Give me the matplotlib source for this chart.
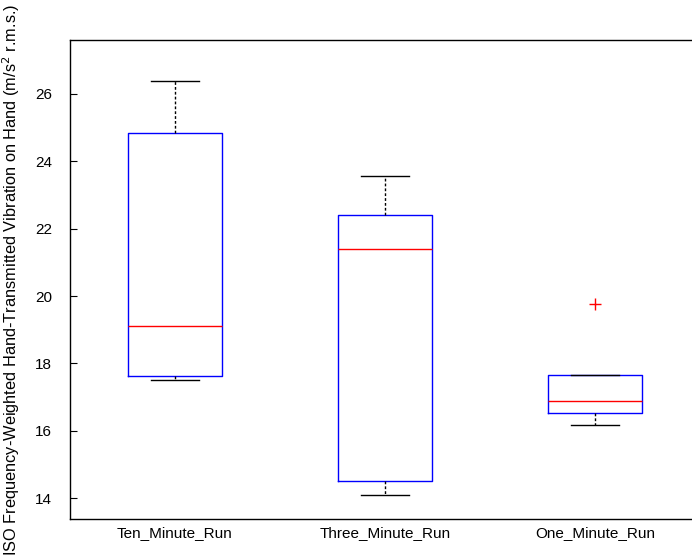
import matplotlib
matplotlib.use('Agg')
import matplotlib.pyplot as plt

# box statistics
groups = ['Ten_Minute_Run', 'Three_Minute_Run', 'One_Minute_Run']
q1 = [17.63, 14.52, 16.53]
med = [19.11, 21.40, 16.88]
q3 = [24.84, 22.41, 17.66]
whislo = [17.50, 14.10, 16.17]
whishi = [26.38, 23.56, 17.66]
fliers = [[], [], [19.77]]

plt.rcParams['font.family'] = ['Liberation Sans', 'DejaVu Sans']

fig = plt.figure(figsize=(6.92, 5.6), dpi=100)
# axes runs past the right edge of the picture, like the cropped original
ax = fig.add_axes([70/692, 41/560, 630/692, 479/560])

stats = []
for i in range(len(groups)):
    stats.append(dict(label=groups[i], q1=q1[i], med=med[i], q3=q3[i],
                      whislo=whislo[i], whishi=whishi[i], fliers=fliers[i]))

ax.bxp(stats, positions=[1, 2, 3], widths=0.45, capwidths=0.225,
       boxprops=dict(color='#0000ff', linewidth=1),
       medianprops=dict(color='#ff0000', linewidth=1),
       whiskerprops=dict(color='black', linewidth=1, linestyle=(0, (2, 1.5))),
       capprops=dict(color='black', linewidth=1),
       flierprops=dict(marker='+', markeredgecolor='#ff0000', markersize=9,
                       markeredgewidth=1, linestyle='none'))

ax.set_xlim(0.5, 3.5)
ax.set_ylim(13.38, 27.6)
ax.set_yticks([14, 16, 18, 20, 22, 24, 26])
ax.tick_params(axis='y', direction='in', length=5, pad=13, labelsize=11)
ax.tick_params(axis='x', length=0, pad=5, labelsize=11)
for s in ax.spines.values():
    s.set_linewidth(1)

fig.text(11/692, 1 - 280/560,
         'ISO Frequency-Weighted Hand-Transmitted Vibration on Hand (m/s$^2$ r.m.s.)',
         rotation=90, ha='center', va='center', fontsize=11.8)

fig.savefig('out.png', dpi=100)
